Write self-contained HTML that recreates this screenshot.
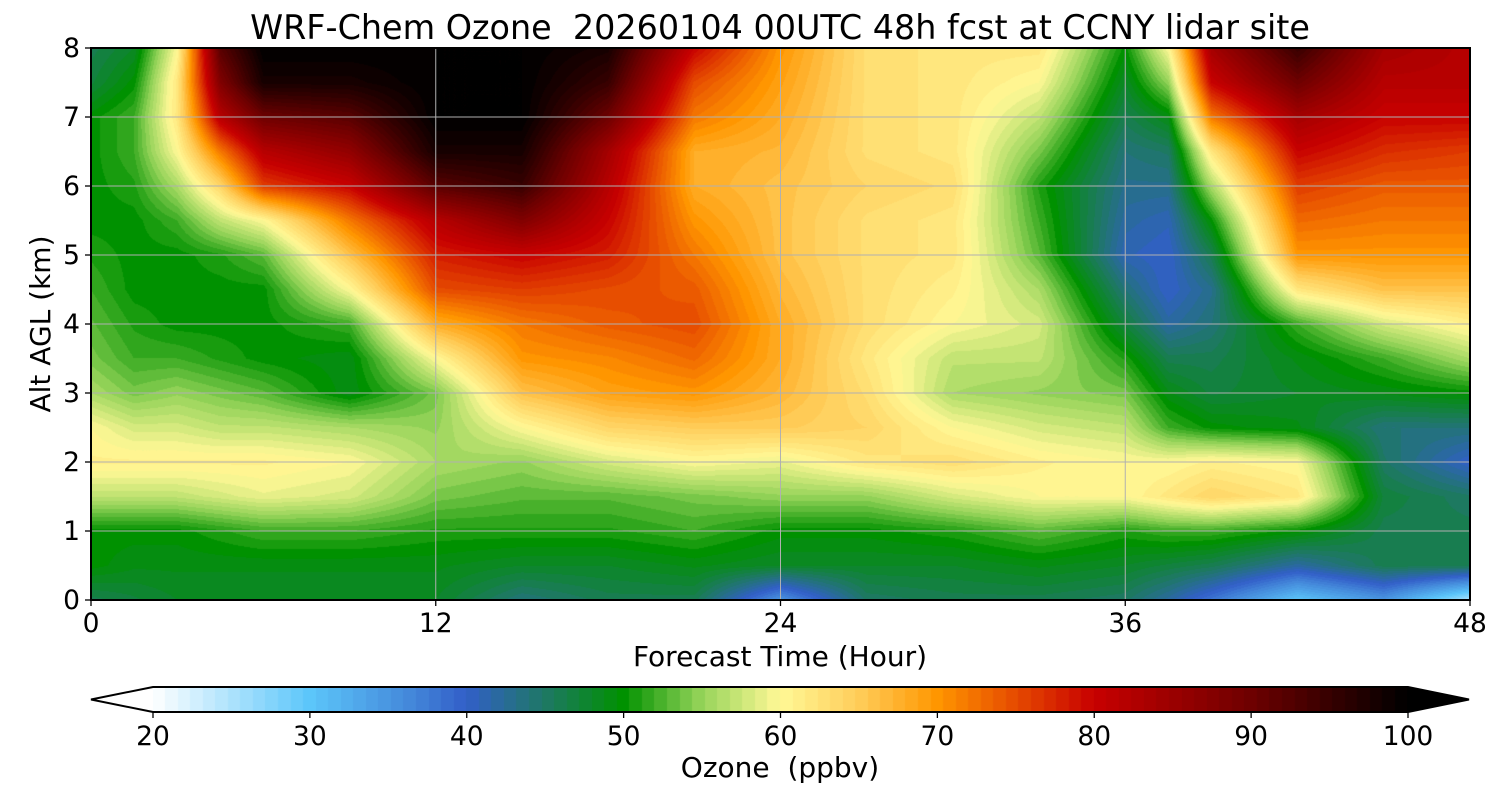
<!DOCTYPE html>
<html><head><meta charset="utf-8">
<style>
body{margin:0;background:#fff;font-family:"DejaVu Sans","Liberation Sans",sans-serif;}
#wrap{position:relative;width:1500px;height:800px;overflow:hidden;}
canvas{position:absolute;}
svg{position:absolute;left:0;top:0;}
text{font-family:"DejaVu Sans","Liberation Sans",sans-serif;fill:#000;white-space:pre;}
</style></head><body>
<div id="wrap">
<canvas id="plot" width="1379" height="552" style="left:91px;top:48px"></canvas>
<canvas id="cbar" width="1255" height="25" style="left:153px;top:687px"></canvas>
<svg id="ov" width="1500" height="800"></svg>
</div>
<script>
const hours=[0,1.5,3,4.5,6,9,12,15,18,21,24,27,30,33,36,37.5,39,42,45,48];
const alts=[8,7.5,7,6.5,6,5.5,5,4.5,4,3.5,3,2.5,2,1.5,1,0.5,0];
const ozone=[
[46,48,60,92,100,100,100,100,98,80,70,63,62,62,50,60,84,95,84,82],
[47,50,62,88,98,98,100,100,95,75,69,63,62,60,48,55,80,90,82,82],
[50,52,62,82,90,92,100,100,90,72,68,63,62,57,46,49,72,84,80,80],
[50,52,60,72,82,86,98,98,84,68,67,63,62,54,44,45,62,80,77,76],
[50,51,56,64,76,80,92,95,82,68,66,64,63,51,43,43,56,76,74,74],
[50,50,52,57,60,72,82,88,80,70,66,63,62,52,42,41,50,73,72,72],
[51,50,50,51,53,66,78,80,78,72,66,63,62,53,41,40,46,70,70,70],
[52,50,50,50,50,60,75,76,75,74,67,63,61,56,44,40,43,62,66,66],
[53,51,50,50,50,52,68,72,74,75,68,63,60,58,47,42,44,52,58,61],
[54,52,52,51,50,49,60,70,71,73,68,62,57,57,51,46,46,49,52,56],
[56,54,55,54,53,49,54,66,69,70,67,63,56,55,54,49,47,48,49,50],
[60,58,58,57,57,56,55,60,64,65,65,64,60,58,57,52,50,49,44,44],
[61,61,61,61,61,60,56,55,58,60,59,62,63,61,60,60,61,60,45,40],
[57,57,57,58,59,58,54,53,53,54,55,55,58,60,60,62,64,62,47,45],
[50,50,50,51,52,52,51,51,51,52,50,50,51,53,51,52,52,50,46,46],
[50,49,49,49,49,49,49,48,48,49,48,48,48,49,48,47,46,42,46,46],
[46,47,48,48,48,48,48,44,46,46,35,45,46,46,45,42,38,30,35,25]];
const xTicks=[0,12,24,36,48];
const yTicks=[0,1,2,3,4,5,6,7,8];
const cbTicks=[20,30,40,50,60,70,80,90,100];

const X0=91,X1=1470,Y0=600,Y1=48;
const xs=h=>X0+(h-0)/48*(X1-X0);
const ys=a=>Y0-(a/8)*(Y0-Y1);
const anchors=[[20,[255,255,255]],[30,[92,198,250]],[36,[70,140,220]],[40,[50,95,200]],[45,[30,120,100]],[50,[0,145,0]],[55,[150,212,90]],[60,[255,248,150]],[65,[255,205,90]],[70,[255,150,0]],[75,[230,75,0]],[80,[200,0,0]],[90,[110,0,0]],[100,[0,0,0]]];
function cmap(v){
  const step=0.8;
  if(v<20)return anchors[0][1]; if(v>=100)return [0,0,0];
  v=20+Math.floor((v-20)/step)*step+step/2;
  for(let i=0;i<anchors.length-1;i++){const a=anchors[i],b=anchors[i+1];
    if(v<=b[0]){const t=(v-a[0])/(b[0]-a[0]);return a[1].map((c,k)=>Math.round(c+(b[1][k]-c)*t));}}
  return [0,0,0];
}
function idx(arr,v,desc){
  for(let i=0;i<arr.length-1;i++){
    if(desc?(v>=arr[i+1]):(v<=arr[i+1])){const t=(v-arr[i])/(arr[i+1]-arr[i]);return [i,t];}
  }
  return [arr.length-2,1];
}
function val(h,a){
  const [i,tx]=idx(hours,h,false);const [j,ty]=idx(alts,a,true);
  const v00=ozone[j][i],v01=ozone[j][i+1],v10=ozone[j+1][i],v11=ozone[j+1][i+1];
  return v00*(1-tx)*(1-ty)+v01*tx*(1-ty)+v10*(1-tx)*ty+v11*tx*ty;
}
const pc=document.getElementById('plot'),ctx=pc.getContext('2d');
const W=pc.width,H=pc.height,img=ctx.createImageData(W,H);
for(let py=0;py<H;py++){const a=8-(py+0.5)/H*8;
  for(let px=0;px<W;px++){const h=(px+0.5)/W*48;const c=cmap(val(h,a));const o=(py*W+px)*4;
    img.data[o]=c[0];img.data[o+1]=c[1];img.data[o+2]=c[2];img.data[o+3]=255;}}
ctx.putImageData(img,0,0);
const cb=document.getElementById('cbar'),cx=cb.getContext('2d');
for(let v=20;v<100;v+=0.8){const c=cmap(v+0.01);cx.fillStyle=`rgb(${c})`;
  const x=(v-20)/80*1255;cx.fillRect(Math.floor(x),0,Math.ceil(1255*0.8/80)+1,25);}
const svg=document.getElementById('ov');const NS='http://www.w3.org/2000/svg';
function el(tag,attrs,txt){const e=document.createElementNS(NS,tag);for(const k in attrs)e.setAttribute(k,attrs[k]);if(txt!==undefined)e.textContent=txt;svg.appendChild(e);return e;}
xTicks.forEach(t=>{const x=xs(t);
  if(t>0&&t<48){const g=el('line',{x1:x,x2:x,y1:Y1,y2:Y0,stroke:'#b0b0b0','stroke-width':1});
  
  }
  const k=el('line',{x1:x,x2:x,y1:Y0,y2:Y0+6,stroke:'#000','stroke-width':1.3});
  
  
  const l=el('text',{x:x,y:632,'font-size':26.5,'text-anchor':'middle'},t);
  
  });
yTicks.forEach(t=>{const y=ys(t);
  if(t>0&&t<8){const g=el('line',{x1:X0,x2:X1,y1:y,y2:y,stroke:'#b0b0b0','stroke-width':1});
  
  }
  const k=el('line',{x1:X0-6,x2:X0,y1:y,y2:y,stroke:'#000','stroke-width':1.3});
  
  
  const l=el('text',{x:80,y:y+9,'font-size':26.5,'text-anchor':'end'},t);
  
  });
const fr=el('rect',{x:X0,y:Y1,width:X1-X0,height:Y0-Y1,fill:'none',stroke:'#000','stroke-width':2});


const cbo=el('path',{d:'M153,687 L1408,687 L1469,699.5 L1408,712 L153,712 L91,699.5 Z',fill:'none',stroke:'#000','stroke-width':2});


const tri=el('path',{d:'M1408,687 L1469,699.5 L1408,712 Z',fill:'#000'});


cbTicks.forEach(t=>{const x=153+(t-20)/80*1255;
  const k=el('line',{x1:x,x2:x,y1:712,y2:718,stroke:'#000','stroke-width':1.3});
  
  
  const l=el('text',{x:x,y:745,'font-size':26.5,'text-anchor':'middle'},t);
  
  });
const ti=el('text',{x:780,y:39,'font-size':33.4,'text-anchor':'middle'},'WRF-Chem Ozone  20260104 00UTC 48h fcst at CCNY lidar site');


const xl=el('text',{x:780,y:666,'font-size':28,'text-anchor':'middle'},'Forecast Time (Hour)');


const yl=el('text',{x:0,y:0,'font-size':28,'text-anchor':'middle',transform:'translate(50,324) rotate(-90)'},'Alt AGL (km)');


const cl=el('text',{x:780,y:777,'font-size':28,'text-anchor':'middle'},'Ozone  (ppbv)');


</script>
</body></html>
